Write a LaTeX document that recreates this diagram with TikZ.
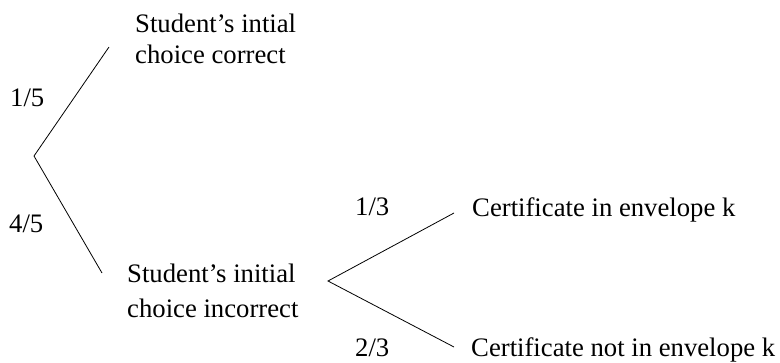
\documentclass[tikz,border=0pt]{standalone}
\usepackage{fontspec}
\setmainfont{Liberation Serif}
\begin{document}
\begin{tikzpicture}[x=1pt,y=-1pt,
  lbl/.style={inner sep=0pt,anchor=base west,font=\fontsize{26.7}{31}\selectfont},
  branch/.style={draw=black,line width=0.8pt}]
\useasboundingbox (0,0) rectangle (780,362);
\coordinate (r1) at (34,156);
\coordinate (e1) at (109,47);
\coordinate (e2) at (102,273);
\coordinate (r2) at (328,281);
\coordinate (e3) at (454,213);
\coordinate (e4) at (454,347);
\node[lbl] (c1a) at (135,32) {Student’s intial};
\node[lbl] (c1b) at (135,63) {choice correct};
\node[lbl] (c2a) at (127,282) {Student’s initial};
\node[lbl] (c2b) at (127,317) {choice incorrect};
\node[lbl] (p15) at (10,106) {1/5};
\node[lbl] (p45) at (9,232) {4/5};
\node[lbl] (p13) at (355,215) {1/3};
\node[lbl] (p23) at (355,356) {2/3};
\node[lbl] (k1) at (472,216) {Certificate in envelope k};
\node[lbl] (k2) at (471,356) {Certificate not in envelope k};
\draw[branch] (e1) -- (r1) -- (e2);
\draw[branch] (e3) -- (r2) -- (e4);
\end{tikzpicture}
\end{document}
